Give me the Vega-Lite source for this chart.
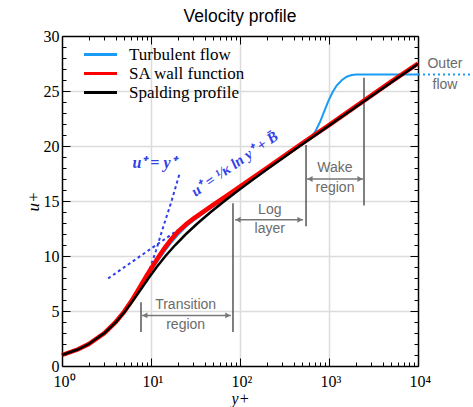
{
  "$schema": "https://vega.github.io/schema/vega-lite/v6.json",
  "width": 356,
  "height": 330,
  "autosize": {"type": "none"},
  "padding": {"left": 62, "top": 36, "right": 55, "bottom": 41},
  "background": "white",
  "config": {"view": {"stroke": null}, "font": "Liberation Sans"},
  "title": {"text": "Velocity profile", "font": "Liberation Sans", "fontSize": 17.5, "fontWeight": "normal", "color": "black", "offset": 3},
  "datasets": {
    "curves": [
      {"s": "Turbulent flow", "yp": 1, "u": 1}, {"s": "Turbulent flow", "yp": 1.5, "u": 1.5}, {"s": "Turbulent flow", "yp": 2, "u": 2}, {"s": "Turbulent flow", "yp": 3, "u": 3}, {"s": "Turbulent flow", "yp": 4, "u": 3.96}, {"s": "Turbulent flow", "yp": 5, "u": 4.92}, {"s": "Turbulent flow", "yp": 6, "u": 5.85}, {"s": "Turbulent flow", "yp": 7, "u": 6.7}, {"s": "Turbulent flow", "yp": 8, "u": 7.45}, {"s": "Turbulent flow", "yp": 9, "u": 8.1}, {"s": "Turbulent flow", "yp": 10, "u": 8.65}, {"s": "Turbulent flow", "yp": 12, "u": 9.6}, {"s": "Turbulent flow", "yp": 14, "u": 10.35}, {"s": "Turbulent flow", "yp": 17, "u": 11.25}, {"s": "Turbulent flow", "yp": 20, "u": 11.9}, {"s": "Turbulent flow", "yp": 25, "u": 12.7}, {"s": "Turbulent flow", "yp": 30, "u": 13.2}, {"s": "Turbulent flow", "yp": 40, "u": 13.95}, {"s": "Turbulent flow", "yp": 50, "u": 14.5}, {"s": "Turbulent flow", "yp": 70, "u": 15.3}, {"s": "Turbulent flow", "yp": 100, "u": 16.2}, {"s": "Turbulent flow", "yp": 200, "u": 17.95}, {"s": "Turbulent flow", "yp": 400, "u": 19.65}, {"s": "Turbulent flow", "yp": 550, "u": 20.45}, {"s": "Turbulent flow", "yp": 630, "u": 20.85}, {"s": "Turbulent flow", "yp": 700, "u": 21.3}, {"s": "Turbulent flow", "yp": 794, "u": 22.2}, {"s": "Turbulent flow", "yp": 900, "u": 23.3}, {"s": "Turbulent flow", "yp": 985, "u": 24.1}, {"s": "Turbulent flow", "yp": 1100, "u": 24.9}, {"s": "Turbulent flow", "yp": 1220, "u": 25.5}, {"s": "Turbulent flow", "yp": 1400, "u": 26.0}, {"s": "Turbulent flow", "yp": 1580, "u": 26.3}, {"s": "Turbulent flow", "yp": 1800, "u": 26.45}, {"s": "Turbulent flow", "yp": 2040, "u": 26.5}, {"s": "Turbulent flow", "yp": 3000, "u": 26.5}, {"s": "Turbulent flow", "yp": 10000, "u": 26.5},
      {"s": "SA wall function", "yp": 1, "u": 1}, {"s": "SA wall function", "yp": 1.5, "u": 1.5}, {"s": "SA wall function", "yp": 2, "u": 2}, {"s": "SA wall function", "yp": 3, "u": 3}, {"s": "SA wall function", "yp": 4, "u": 3.98}, {"s": "SA wall function", "yp": 5, "u": 4.95}, {"s": "SA wall function", "yp": 6, "u": 5.88}, {"s": "SA wall function", "yp": 7, "u": 6.75}, {"s": "SA wall function", "yp": 8, "u": 7.55}, {"s": "SA wall function", "yp": 9, "u": 8.25}, {"s": "SA wall function", "yp": 10, "u": 8.85}, {"s": "SA wall function", "yp": 12, "u": 9.85}, {"s": "SA wall function", "yp": 14, "u": 10.65}, {"s": "SA wall function", "yp": 17, "u": 11.55}, {"s": "SA wall function", "yp": 20, "u": 12.2}, {"s": "SA wall function", "yp": 25, "u": 12.9}, {"s": "SA wall function", "yp": 30, "u": 13.4}, {"s": "SA wall function", "yp": 40, "u": 14.1}, {"s": "SA wall function", "yp": 50, "u": 14.65}, {"s": "SA wall function", "yp": 70, "u": 15.45}, {"s": "SA wall function", "yp": 100, "u": 16.3}, {"s": "SA wall function", "yp": 200, "u": 18.0}, {"s": "SA wall function", "yp": 500, "u": 20.25}, {"s": "SA wall function", "yp": 1000, "u": 21.9}, {"s": "SA wall function", "yp": 2000, "u": 23.6}, {"s": "SA wall function", "yp": 5000, "u": 25.85}, {"s": "SA wall function", "yp": 10000, "u": 27.5},
      {"s": "Spalding profile", "yp": 1, "u": 1}, {"s": "Spalding profile", "yp": 1.5, "u": 1.5}, {"s": "Spalding profile", "yp": 2, "u": 2}, {"s": "Spalding profile", "yp": 3, "u": 2.99}, {"s": "Spalding profile", "yp": 4.06, "u": 4}, {"s": "Spalding profile", "yp": 5.15, "u": 5}, {"s": "Spalding profile", "yp": 6.35, "u": 6}, {"s": "Spalding profile", "yp": 7.74, "u": 7}, {"s": "Spalding profile", "yp": 9.42, "u": 8}, {"s": "Spalding profile", "yp": 11.6, "u": 9}, {"s": "Spalding profile", "yp": 14.55, "u": 10}, {"s": "Spalding profile", "yp": 18.72, "u": 11}, {"s": "Spalding profile", "yp": 24.76, "u": 12}, {"s": "Spalding profile", "yp": 33.67, "u": 13}, {"s": "Spalding profile", "yp": 47, "u": 14}, {"s": "Spalding profile", "yp": 67, "u": 15}, {"s": "Spalding profile", "yp": 97.1, "u": 16}, {"s": "Spalding profile", "yp": 142.5, "u": 17}, {"s": "Spalding profile", "yp": 211, "u": 18}, {"s": "Spalding profile", "yp": 315, "u": 19}, {"s": "Spalding profile", "yp": 471, "u": 20}, {"s": "Spalding profile", "yp": 708, "u": 21}, {"s": "Spalding profile", "yp": 1064, "u": 22}, {"s": "Spalding profile", "yp": 2412, "u": 24}, {"s": "Spalding profile", "yp": 5476, "u": 26}, {"s": "Spalding profile", "yp": 10000, "u": 27.45}
    ],
    "guides": [
      {"g": "lin", "yp": 8.5, "u": 7.8}, {"g": "lin", "yp": 9.75, "u": 8.9}, {"g": "lin", "yp": 11.4, "u": 10.5}, {"g": "lin", "yp": 13.2, "u": 12.2}, {"g": "lin", "yp": 14.7, "u": 13.4}, {"g": "lin", "yp": 16.3, "u": 14.5}, {"g": "lin", "yp": 18.5, "u": 16.0}, {"g": "lin", "yp": 20.8, "u": 17.4},
      {"g": "log", "yp": 3.3, "u": 7.96}, {"g": "log", "yp": 20, "u": 12.36}
    ],
    "outer": [{"yp": 10000, "yp2": 40000, "u": 26.5}],
    "bars": [{"yp": 7.72, "u": 3.1, "u2": 5.8}, {"yp": 83.4, "u": 3.1, "u2": 14.8}, {"yp": 552, "u": 12.7, "u2": 20.1}, {"yp": 2473, "u": 14.6, "u2": 26.2}],
    "arrows": [{"yp": 7.9, "yp2": 79, "u": 4.6}, {"yp": 88, "yp2": 510, "u": 13.3}, {"yp": 566, "yp2": 2410, "u": 17.0}],
    "labels": [{"yp": 24.5, "u": 5.55, "t": "Transition"}, {"yp": 24.5, "u": 3.73, "t": "region"}, {"yp": 216, "u": 14.18, "t": "Log"}, {"yp": 216, "u": 12.45, "t": "layer"}, {"yp": 1167, "u": 18.0, "t": "Wake"}, {"yp": 1167, "u": 16.18, "t": "region"}, {"yp": 20100, "u": 27.45, "t": "Outer"}, {"yp": 20100, "u": 25.55, "t": "flow"}],
    "eq1": [{"yp": 10.8, "u": 18.45, "t": "u⁺ = y⁺"}],
    "eq2": [{"yp": 86.7, "u": 18.4, "t": "u⁺ = ¹⁄κ ln y⁺ + B̄"}]
  },
  "resolve": {"axis": {"x": "independent", "y": "independent"}},
  "layer": [
    {
      "data": {"name": "guides"},
      "mark": {"type": "line", "color": "#2b3df0", "strokeWidth": 2, "strokeDash": [3, 3]},
      "encoding": {
        "x": {"field": "yp", "type": "quantitative", "scale": {"type": "log", "domain": [1, 10000], "nice": false},
          "axis": {"orient": "bottom", "values": [1,2,3,4,5,6,7,8,9,10,20,30,40,50,60,70,80,90,100,200,300,400,500,600,700,800,900,1000,2000,3000,4000,5000,6000,7000,8000,9000,10000],
            "labelExpr": "datum.value==1?'10⁰':datum.value==10?'10¹':datum.value==100?'10²':datum.value==1000?'10³':datum.value==10000?'10⁴':''",
            "labelOverlap": false, "labelFlush": false, "labelAlign": "left", "labelOffset": -9,
            "tickSize": {"condition": {"test": "indexof([1,10,100,1000,10000],datum.value)>=0", "value": -8}, "value": -4},
            "grid": true, "gridColor": "#dcdcdc", "gridWidth": 1.5,
            "gridOpacity": {"condition": {"test": "indexof([10,100,1000],datum.value)>=0", "value": 1}, "value": 0},
            "domainColor": "black", "domainWidth": 1.5, "tickColor": "black",
            "labelFont": "Liberation Serif", "labelFontSize": 16, "labelColor": "black", "labelPadding": 15,
            "title": "y+", "titleFont": "Liberation Serif", "titleFontSize": 16, "titleFontStyle": "italic", "titleFontWeight": "normal", "titleColor": "black", "titlePadding": -3}},
        "y": {"field": "u", "type": "quantitative", "scale": {"domain": [0, 30], "nice": false},
          "axis": {"orient": "left", "values": [0,1,2,3,4,5,6,7,8,9,10,11,12,13,14,15,16,17,18,19,20,21,22,23,24,25,26,27,28,29,30],
            "labelExpr": "datum.value % 5 == 0 ? datum.label : ''", "labelOverlap": false, "labelFlush": false,
            "tickSize": {"condition": {"test": "datum.value % 5 == 0", "value": -8}, "value": -4},
            "grid": true, "gridColor": "#dcdcdc", "gridWidth": 1.5,
            "gridOpacity": {"condition": {"test": "datum.value % 5 == 0 && datum.value > 0 && datum.value < 30", "value": 1}, "value": 0},
            "domainColor": "black", "domainWidth": 1.5, "tickColor": "black",
            "labelFont": "Liberation Serif", "labelFontSize": 16, "labelColor": "black", "labelPadding": 11,
            "title": "u+", "titleFont": "Liberation Serif", "titleFontSize": 17, "titleFontStyle": "italic", "titleFontWeight": "normal", "titleColor": "black", "titlePadding": 1}},
        "detail": {"field": "g", "type": "nominal"}
      }
    },
    {
      "data": {"name": "outer"},
      "mark": {"type": "rule", "color": "#1a9bf5", "strokeWidth": 2, "strokeDash": [2, 3]},
      "encoding": {
        "x": {"field": "yp", "type": "quantitative", "axis": null},
        "x2": {"field": "yp2"},
        "y": {"field": "u", "type": "quantitative", "axis": null}
      }
    },
    {
      "data": {"name": "bars"},
      "mark": {"type": "rule", "color": "#555555", "strokeWidth": 1.5},
      "encoding": {
        "x": {"field": "yp", "type": "quantitative", "axis": null},
        "y": {"field": "u", "type": "quantitative", "axis": null},
        "y2": {"field": "u2"}
      }
    },
    {
      "data": {"name": "arrows"},
      "mark": {"type": "rule", "color": "#777777", "strokeWidth": 1.5},
      "encoding": {
        "x": {"field": "yp", "type": "quantitative", "axis": null},
        "x2": {"field": "yp2"},
        "y": {"field": "u", "type": "quantitative", "axis": null}
      }
    },
    {
      "data": {"name": "arrows"},
      "mark": {"type": "point", "shape": "triangle-left", "filled": true, "color": "#777777", "size": 35, "opacity": 1, "xOffset": 3},
      "encoding": {
        "x": {"field": "yp", "type": "quantitative", "axis": null},
        "y": {"field": "u", "type": "quantitative", "axis": null}
      }
    },
    {
      "data": {"name": "arrows"},
      "mark": {"type": "point", "shape": "triangle-right", "filled": true, "color": "#777777", "size": 35, "opacity": 1, "xOffset": -3},
      "encoding": {
        "x": {"field": "yp2", "type": "quantitative", "axis": null},
        "y": {"field": "u", "type": "quantitative", "axis": null}
      }
    },
    {
      "data": {"name": "labels"},
      "mark": {"type": "text", "font": "Liberation Sans", "fontSize": 14, "color": "#6b6b6b", "align": "center", "baseline": "middle"},
      "encoding": {
        "x": {"field": "yp", "type": "quantitative", "axis": null},
        "y": {"field": "u", "type": "quantitative", "axis": null},
        "text": {"field": "t"}
      }
    },
    {
      "data": {"name": "eq2"},
      "mark": {"type": "text", "font": "Liberation Serif", "fontSize": 15, "fontWeight": "bold", "fontStyle": "italic", "color": "#3340e8", "align": "center", "baseline": "middle", "angle": -35},
      "encoding": {
        "x": {"field": "yp", "type": "quantitative", "axis": null},
        "y": {"field": "u", "type": "quantitative", "axis": null},
        "text": {"field": "t"}
      }
    },
    {
      "data": {"name": "curves"},
      "transform": [{"filter": "datum.s == 'Turbulent flow'"}],
      "mark": {"type": "line", "strokeWidth": 2},
      "encoding": {
        "x": {"field": "yp", "type": "quantitative", "axis": null},
        "y": {"field": "u", "type": "quantitative", "axis": null},
        "color": {"field": "s", "type": "nominal",
          "scale": {"domain": ["Turbulent flow", "SA wall function", "Spalding profile"], "range": ["#1a9bf5", "#ff0000", "#000000"]},
          "legend": {"orient": "none", "legendX": 30, "legendY": 10, "title": null, "symbolType": "M-3,0H3", "symbolSize": 121, "symbolStrokeWidth": 3, "labelFont": "Liberation Serif", "labelFontSize": 17, "labelColor": "black", "rowPadding": 1, "labelOffset": 20, "padding": 0}}
      }
    },
    {
      "data": {"name": "curves"},
      "transform": [{"filter": "datum.s == 'SA wall function'"}],
      "mark": {"type": "line", "strokeWidth": 4.5},
      "encoding": {
        "x": {"field": "yp", "type": "quantitative", "axis": null},
        "y": {"field": "u", "type": "quantitative", "axis": null},
        "color": {"field": "s", "type": "nominal",
          "scale": {"domain": ["Turbulent flow", "SA wall function", "Spalding profile"], "range": ["#1a9bf5", "#ff0000", "#000000"]},
          "legend": {"orient": "none", "legendX": 30, "legendY": 10, "title": null, "symbolType": "M-3,0H3", "symbolSize": 121, "symbolStrokeWidth": 3, "labelFont": "Liberation Serif", "labelFontSize": 17, "labelColor": "black", "rowPadding": 1, "labelOffset": 20, "padding": 0}}
      }
    },
    {
      "data": {"name": "curves"},
      "transform": [{"filter": "datum.s == 'Spalding profile'"}],
      "mark": {"type": "line", "strokeWidth": 2.5},
      "encoding": {
        "x": {"field": "yp", "type": "quantitative", "axis": null},
        "y": {"field": "u", "type": "quantitative", "axis": null},
        "color": {"field": "s", "type": "nominal",
          "scale": {"domain": ["Turbulent flow", "SA wall function", "Spalding profile"], "range": ["#1a9bf5", "#ff0000", "#000000"]},
          "legend": {"orient": "none", "legendX": 30, "legendY": 10, "title": null, "symbolType": "M-3,0H3", "symbolSize": 121, "symbolStrokeWidth": 3, "labelFont": "Liberation Serif", "labelFontSize": 17, "labelColor": "black", "rowPadding": 1, "labelOffset": 20, "padding": 0}}
      }
    },
    {
      "data": {"name": "eq1"},
      "mark": {"type": "text", "font": "Liberation Serif", "fontSize": 16, "fontWeight": "bold", "fontStyle": "italic", "color": "#3340e8", "align": "center", "baseline": "middle"},
      "encoding": {
        "x": {"field": "yp", "type": "quantitative",
          "axis": {"orient": "top", "values": [1,2,3,4,5,6,7,8,9,10,20,30,40,50,60,70,80,90,100,200,300,400,500,600,700,800,900,1000,2000,3000,4000,5000,6000,7000,8000,9000,10000],
            "labels": false, "title": null, "grid": false, "domainColor": "black", "domainWidth": 1.5, "tickColor": "black",
            "tickSize": {"condition": {"test": "indexof([1,10,100,1000,10000],datum.value)>=0", "value": -8}, "value": -4}}},
        "y": {"field": "u", "type": "quantitative",
          "axis": {"orient": "right", "values": [0,1,2,3,4,5,6,7,8,9,10,11,12,13,14,15,16,17,18,19,20,21,22,23,24,25,26,27,28,29,30],
            "labels": false, "title": null, "grid": false, "domainColor": "black", "domainWidth": 1.5, "tickColor": "black",
            "tickSize": {"condition": {"test": "datum.value % 5 == 0", "value": -8}, "value": -4}}},
        "text": {"field": "t"}
      }
    }
  ]
}
